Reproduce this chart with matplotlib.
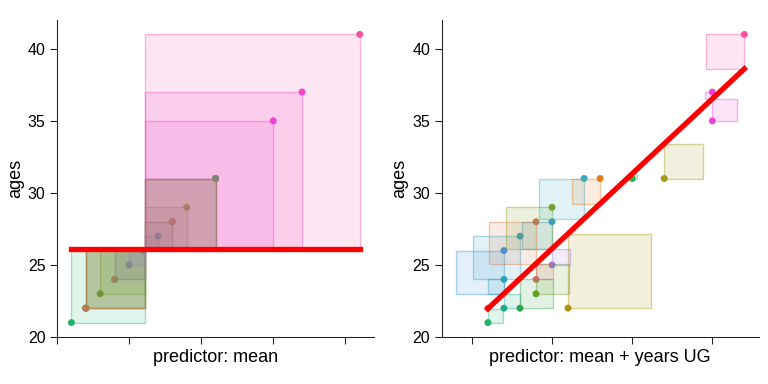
import numpy as np
import matplotlib.pyplot as plt
from matplotlib.patches import Rectangle
from matplotlib.colors import to_rgba

plt.rcParams['font.family'] = ['Liberation Sans', 'DejaVu Sans']

# data
years_ug = [1, 2, 3, 6, 1, 4, 2, 4, 5, 2, 3, 5, 4, 5, 7, 8, 12, 10, 15, 15, 17]
ages = [21, 22, 22, 22, 22, 23, 24, 24, 25, 26, 27, 28, 28, 29, 31, 31, 31, 31, 35, 37, 41]
point_colors = ['#1fb36b', '#1fae8c', '#34a13f', '#ae9214', '#e66a5f', '#6a9c20',
                '#2aa5a5', '#dd6a72', '#9b78e6', '#3b8fe6', '#33a2c6', '#2a9ae3',
                '#dc7345', '#7da019', '#2eb0c2', '#e37c1e', '#a59a18', '#27b24f',
                '#ee44db', '#f045d0', '#f7509f']

mean_age = 26.1      # level of the mean line in the left panel
fit_intercept = 20.93
fit_slope = 1.04


def draw_squares(ax, xs, ys, preds):
    for x, y, p, c in zip(xs, ys, preds, point_colors):
        r = y - p
        rect = Rectangle((min(x, x - r), min(y, y - r)), abs(r), abs(r),
                         facecolor=to_rgba(c, 0.14), edgecolor=to_rgba(c, 0.4),
                         linewidth=1, zorder=2)
        ax.add_patch(rect)


fig = plt.figure(figsize=(8, 4), dpi=96)
ax1 = fig.add_axes([0.0742, 0.1224, 0.413, 0.8255])
ax2 = fig.add_axes([0.575, 0.1224, 0.413, 0.8255])

# left: mean as predictor
ax1.scatter(ages, ages, c=point_colors, s=27, linewidths=0, zorder=1)
draw_squares(ax1, ages, ages, [mean_age] * len(ages))
ax1.plot([min(ages), max(ages)], [mean_age, mean_age], color='red', lw=4, zorder=3)
ax1.set_xlabel('predictor: mean')

# right: mean + years UG
x = np.array(years_ug)
pred = fit_intercept + fit_slope * x
ax2.scatter(years_ug, ages, c=point_colors, s=27, linewidths=0, zorder=1)
draw_squares(ax2, years_ug, ages, pred)
xl = np.array([x.min(), x.max()])
ax2.plot(xl, fit_intercept + fit_slope * xl, color='red', lw=4, zorder=3)
ax2.set_xlabel('predictor: mean + years UG')
ax2.set_xticks([0, 5, 10, 15])

for ax in (ax1, ax2):
    ax.autoscale_view()
    ax.set_ylim(20, 42)
    ax.set_yticks([20, 25, 30, 35, 40])
    ax.set_ylabel('ages', fontsize=13.5, labelpad=3)
    ax.xaxis.label.set_size(13.5)
    ax.tick_params(axis='x', labelbottom=False)
    ax.tick_params(labelsize=12, length=5, color='#222222')
    ax.spines['top'].set_visible(False)
    ax.spines['right'].set_visible(False)
    ax.spines['left'].set_color('#222222')
    ax.spines['bottom'].set_color('#222222')
ax1.set_xlim(20, 42)

fig.savefig('out.png', dpi=96)
